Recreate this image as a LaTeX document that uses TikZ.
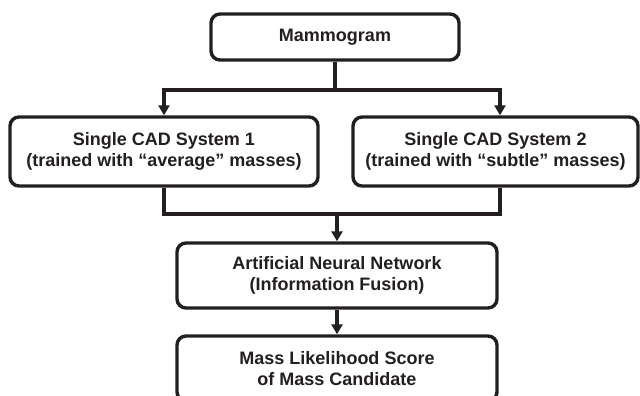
\documentclass[tikz,border=0pt]{standalone}
\usepackage{fontspec}
\setmainfont{Liberation Sans}
\usepackage{tikz}
\usetikzlibrary{arrows.meta}
\definecolor{trait}{HTML}{231F20}

\begin{document}
\begin{tikzpicture}[x=1pt, y=-1pt]
	\tikzset{boite/.style={draw=trait, line width=3.4pt, rounded corners=9pt, align=center, text=trait,
			font=\fontsize{18}{21}\selectfont\bfseries, inner sep=0pt},
		ligne/.style={draw=trait, line width=3.4pt, line join=miter},
		fleche/.style={ligne, -{Triangle[length=10pt, width=11pt]}}};

	\useasboundingbox (0,0) rectangle (640,396);

	\node[boite, minimum width=248pt, minimum height=46pt] (mammo) at (335,37) {Mammogram};

	\foreach \name/\x/\larg/\sorte/\num in {cad1/164/308/average/1, cad2/495.5/285/subtle/2}{
		\node[boite, minimum width=\larg pt, minimum height=69pt] (\name) at (\x,151.5)
			{Single CAD System \num\\(trained with “\sorte” masses)};
	}

	\node[boite, minimum width=320pt, minimum height=65pt] (ann) at (337,275.5)
		{Artificial Neural Network\\(Information Fusion)};
	\node[boite, minimum width=320pt, minimum height=65pt] (score) at (337,368.5)
		{Mass Likelihood Score\\of Mass Candidate};

	\coordinate (haut) at (335,90);
	\coordinate (bas) at (337,214);

	\draw[ligne] (mammo.south) -- (haut);
	\draw[fleche] (haut) -| (cad1.north);
	\draw[fleche] (haut) -| ([xshift=4.5pt]cad2.north);
	\draw[ligne] (cad1.south) |- (bas) -| ([xshift=4.5pt]cad2.south);
	\draw[fleche] (bas) -- (ann.north);
	\draw[fleche] (ann.south) -- (score.north);

\end{tikzpicture}
\end{document}
